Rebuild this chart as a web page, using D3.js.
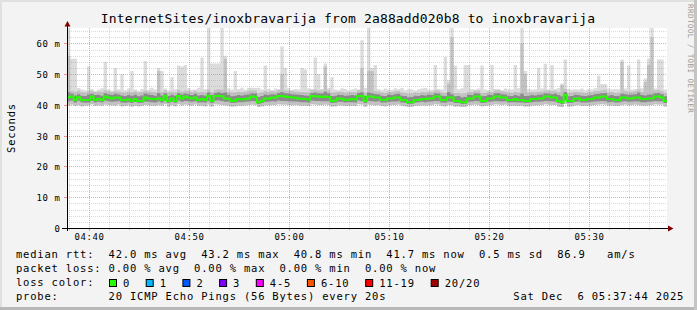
<!DOCTYPE html>
<html><head><meta charset="utf-8">
<script src="https://cdn.jsdelivr.net/npm/d3@7"></script>
<style>
html,body{margin:0;padding:0;background:#f3f3f3;}
svg{display:block;}
text{font-family:"DejaVu Sans Mono",monospace;}
</style></head><body>
<svg id="c" width="697" height="310"></svg>
<script>
// ---------------- data ----------------
const titleText = "InternetSites/inoxbravarija from 2a88add020b8 to inoxbravarija";
const yTickValues = [0, 10, 20, 30, 40, 50, 60];
const yTickLabels = ["0", "10 m", "20 m", "30 m", "40 m", "50 m", "60 m"];
const xTickLabels = ["04:40", "04:50", "05:00", "05:10", "05:20", "05:30"];
const stepSeconds = 20;

// median rtt per 20 s step (ms)
const median = [
42.5,42.7,41.6,42.5,41.6,41.6,41.6,42.7,41.6,41.9,41.6,42.7,42.4,42.1,42.4,42.4,41.6,41.6,41.8,41.3,41.9,41.3,41.3,42.4,42.1,41.9,41.9,42.1,41.6,42.9,
41.3,42.1,41.3,42.9,42.1,42.7,42.4,42.1,42.4,41.6,41.9,41.6,42.9,41.3,42.9,42.9,42.8,42.1,42.0,41.3,41.4,41.9,41.8,41.9,42.1,42.7,42.6,40.9,41.3,42.1,
42.0,42.4,42.3,42.9,42.8,42.7,42.6,42.4,42.3,42.1,42.0,41.9,41.8,42.9,42.8,42.7,42.6,42.7,42.6,41.3,41.4,42.1,42.0,41.6,41.7,41.9,41.8,42.9,42.8,41.3,
42.7,42.7,42.4,42.4,41.6,41.6,42.1,42.1,42.4,42.4,41.6,41.6,40.9,40.9,41.6,41.6,41.9,41.9,42.1,42.1,42.7,42.7,41.6,41.6,42.4,42.4,41.3,41.3,40.9,40.9,
42.1,42.1,42.7,42.7,41.3,41.3,42.1,42.1,42.7,42.7,42.4,42.4,41.6,41.6,41.9,41.6,41.6,41.3,41.3,41.9,41.9,42.1,42.1,42.7,42.7,42.4,42.4,41.3,40.9,43.2,
41.3,41.3,42.1,42.1,41.6,41.6,41.9,41.9,42.4,42.4,42.7,42.7,41.9,41.9,41.6,41.6,42.4,42.4,42.1,42.1,42.4,42.4,41.9,41.9,42.1,42.1,42.7,42.7,42.4,41.3
];
// highest ping per step (ms)
const pingMax = [
66,55,55,45.5,45,44.8,52.6,45.2,44.6,45,45.4,54,45,44.7,52,45.1,50,44.8,45.3,51,45,44.6,45.2,54.3,44.9,45.6,45,52,51,45.3,
44.8,49,45.1,52.8,52.5,53,45.4,44.9,45,45.6,55.4,45.2,66,53.5,53.5,53.5,66,56,45.3,45,51,45.2,45.6,44.9,45.6,45.6,45.5,45.6,45,52.8,
45.2,44.8,45.3,45.1,59,52,45.4,44.9,45.2,45,52,51.5,45.3,45.1,55.4,50,45.2,53.5,45.4,49,45,44.8,45.4,45.2,44.8,45,45.3,44.9,61,45.5,
66,52,53,45.2,44.8,45.3,45,44.9,45.4,45.1,45.5,44.8,45.2,45,44.7,45.1,45.3,45.5,45,44.9,53,45.2,45,55.6,48,66,52.8,45.1,45.4,53,
53,45.2,44.9,45.3,52.8,45,44.8,53,45.2,45,44.8,45.3,45.1,45,53,45.4,66,51,45.2,44.9,45.1,52,45.3,53.4,45,53,45.2,45.5,47,54.8,
45.2,44.9,45.1,45,45.3,44.8,45.2,45,45.4,49.5,46.8,46.8,45.3,45,45.2,45.1,54.8,45.3,52.8,45,45.2,54.8,45.4,48.6,55,66,45.3,54.8,54.8,45
];
// second highest ping per step (ms)
const pingHigh = [
56,44.6,44.3,44.7,44.2,44.0,44.5,44.6,44.2,44.4,44.3,44.8,44.5,44.2,44.6,44.4,44.1,44.0,44.3,44.1,44.4,44.0,44.2,44.7,44.4,44.3,44.1,51,44.2,44.8,
44.0,44.3,44.1,44.9,44.4,44.7,44.5,44.2,44.6,44.1,44.3,44.1,45.0,44.2,44.9,45.1,44.9,55,44.3,44.0,44.1,44.3,44.2,44.4,44.5,44.8,44.7,43.8,44.0,44.5,
44.2,44.5,44.4,44.9,50,44.8,44.7,44.5,44.4,44.3,44.2,44.1,44.0,44.9,45.0,44.8,44.7,52.5,44.8,44.0,44.1,44.3,44.2,44.0,44.1,44.2,44.1,44.9,52,44.0,
51,51,44.5,44.4,44.0,43.9,44.3,44.2,44.5,44.6,44.0,43.9,43.6,43.7,44.0,43.9,44.2,44.1,44.3,44.2,44.8,44.7,44.0,43.9,47,62,43.8,43.9,43.5,43.7,
44.3,44.2,44.8,44.7,43.8,43.9,44.3,44.2,44.8,44.9,44.5,44.4,44.0,43.9,44.2,44.0,60,50,44.0,44.2,44.1,44.3,44.4,44.8,44.7,44.5,44.6,44.2,46.5,45.2,
43.9,44.0,44.3,44.2,44.0,43.9,44.1,44.2,44.5,44.6,44.8,44.9,44.1,44.2,43.9,44.0,54,44.5,44.3,44.4,44.5,45.0,44.2,47.5,53,62,44.8,44.9,44.5,43.9
];
// upper quartile per step (ms)
const pingQ3 = [
44.2,43.6,43.1,43.5,43.0,42.9,43.4,43.6,43.2,43.3,43.0,43.8,43.5,43.2,43.6,43.4,43.1,42.9,43.2,43.0,43.3,42.8,43.1,43.7,43.4,43.2,43.0,43.9,43.1,43.8,
42.9,43.3,43.0,43.9,43.4,43.7,43.5,43.2,43.6,43.1,43.2,43.0,44.0,43.2,43.9,44.1,43.9,44.0,43.3,42.8,43.0,43.2,43.1,43.3,43.4,43.8,43.7,42.6,42.9,43.4,
43.2,43.5,43.4,43.9,44.2,43.8,43.7,43.5,43.4,43.3,43.2,43.1,43.0,43.9,44.0,43.8,43.7,44.3,43.8,42.9,43.0,43.3,43.2,43.0,43.1,43.2,43.1,43.9,44.1,42.9,
44.0,43.8,43.5,43.4,43.0,42.9,43.3,43.2,43.5,43.6,43.0,42.9,42.5,42.6,43.0,42.9,43.2,43.1,43.3,43.2,43.8,43.7,43.0,42.9,44.2,43.5,42.8,42.9,42.4,42.6,
43.3,43.2,43.8,43.7,42.8,42.9,43.3,43.2,43.8,43.9,43.5,43.4,43.0,42.9,43.2,43.0,43.6,42.9,43.0,43.2,43.1,43.3,43.4,43.8,43.7,43.5,43.6,43.2,42.8,44.2,
42.8,42.9,43.3,43.2,43.0,42.9,43.1,43.2,43.5,43.6,43.8,43.9,43.1,43.2,42.9,43.0,43.6,43.5,43.3,43.4,43.5,44.0,43.2,43.1,43.3,43.4,43.8,43.9,43.5,42.8
];
// lower quartile per step (ms)
const pingQ1 = [
41.2,41.4,40.8,41.3,40.9,40.7,40.8,41.3,40.8,41.0,40.9,41.4,41.2,41.0,41.1,41.2,40.8,40.7,40.9,40.6,41.0,40.6,40.7,41.1,41.0,40.9,40.8,41.1,40.8,41.4,
40.6,41.1,40.7,41.4,41.0,41.3,41.2,41.0,41.2,40.8,40.9,40.8,41.3,40.6,41.4,41.4,41.3,41.0,41.0,40.6,40.7,40.9,40.9,41.0,41.1,41.3,41.2,40.3,40.6,41.0,
41.0,41.2,41.1,41.4,41.3,41.3,41.2,41.1,41.1,41.0,40.9,40.9,40.8,41.4,41.3,41.3,41.2,41.2,41.2,40.6,40.7,41.0,41.0,40.8,40.9,40.9,40.8,41.4,41.3,40.6,
41.3,41.2,41.1,41.2,40.8,40.8,41.0,41.1,41.1,41.2,40.8,40.7,40.3,40.4,40.8,40.9,41.0,40.9,41.0,41.1,41.3,41.2,40.8,40.7,41.1,41.0,40.6,40.6,40.3,40.4,
41.0,41.1,41.3,41.2,40.6,40.7,41.0,41.1,41.3,41.2,41.1,41.2,40.8,40.9,40.9,40.8,40.8,40.6,40.7,40.9,41.0,41.0,41.1,41.3,41.2,41.2,41.1,40.6,40.3,41.5,
40.6,40.7,41.0,41.1,40.8,40.8,40.9,41.0,41.1,41.2,41.3,41.2,40.9,41.0,40.8,40.8,41.1,41.2,41.0,41.1,41.2,41.1,40.9,40.9,41.0,41.1,41.3,41.2,41.2,40.6
];
// lowest ping per step (ms)
const pingMin = [
39.8,40.1,39.7,40.0,39.6,39.8,39.9,40.2,39.7,39.9,39.8,40.1,40.0,39.9,39.8,40.1,39.6,39.7,39.9,39.5,39.8,39.6,39.7,40.0,39.9,39.8,39.7,40.0,39.8,40.2,
39.5,40.0,39.6,40.2,39.9,40.1,40.0,39.8,40.1,39.7,39.8,39.6,40.1,39.5,40.2,40.1,40.0,39.9,39.8,39.5,39.6,39.8,39.7,39.9,40.0,40.1,40.0,39.3,39.6,39.9,
39.9,40.0,40.0,40.2,40.1,40.1,40.0,39.9,40.0,39.9,39.8,39.8,39.7,40.2,40.1,40.0,40.0,40.1,40.0,39.5,39.6,39.9,39.9,39.7,39.8,39.8,39.7,40.2,40.1,39.5,
40.1,40.0,39.9,40.0,39.7,39.6,39.9,40.0,40.0,40.1,39.7,39.6,39.3,39.4,39.7,39.8,39.9,39.8,39.9,40.0,40.2,40.1,39.7,39.6,40.0,39.9,39.5,39.6,39.3,39.4,
39.9,40.0,40.1,40.0,39.6,39.7,39.9,40.0,40.2,40.1,40.0,40.1,39.7,39.8,39.8,39.7,39.8,39.5,39.6,39.8,39.9,39.9,40.0,40.2,40.1,40.0,40.0,39.5,39.3,40.3,
39.5,39.6,39.9,40.0,39.7,39.7,39.8,39.9,40.0,40.1,40.2,40.1,39.8,39.9,39.7,39.7,40.0,40.1,39.9,40.0,40.1,40.0,39.8,39.8,39.9,40.0,40.2,40.1,40.1,39.5
];

const legendRtt = "median rtt:  42.0 ms avg  43.2 ms max  40.8 ms min  41.7 ms now  0.5 ms sd  86.9   am/s";
const legendLoss = "packet loss: 0.00 % avg  0.00 % max  0.00 % min  0.00 % now";
const lossLabels = ["0", "1", "2", "3", "4-5", "6-10", "11-19", "20/20"];
const lossColors = ["#26ff00", "#00b8ff", "#0059ff", "#7e00ff", "#ff00ff", "#ff5500", "#ff0000", "#a10000"];
const probeText = "probe:       20 ICMP Echo Pings (56 Bytes) every 20s";
const dateText = "Sat Dec  6 05:37:44 2025";
const watermark = "RRDTOOL / TOBI OETIKER";

// ---------------- layout ----------------
const W = 697, H = 310;
const L = 67, R = 667, T = 28, B = 228;
const t0 = new Date(2025, 11, 6, 4, 37, 50);
const t1 = new Date(2025, 11, 6, 5, 37, 50);

const svg = d3.select("#c");
svg.append("rect").attr("width", W).attr("height", H).attr("fill", "#f3f3f3");
// frame
svg.append("rect").attr("x", 0).attr("y", 0).attr("width", W).attr("height", 2).attr("fill", "#e0e0e0");
svg.append("rect").attr("x", 0).attr("y", 0).attr("width", 2).attr("height", H).attr("fill", "#e0e0e0");
svg.append("rect").attr("x", 0).attr("y", H - 3).attr("width", W).attr("height", 3).attr("fill", "#b8b8b8");
svg.append("rect").attr("x", W - 3).attr("y", 0).attr("width", 3).attr("height", H).attr("fill", "#c4c4c4");

const x = d3.scaleTime().domain([t0, t1]).range([L, R]);
const y = d3.scaleLinear().domain([0, 65]).range([B, T]);

svg.append("rect").attr("x", L).attr("y", T).attr("width", R - L).attr("height", B - T).attr("fill", "#ffffff");

svg.append("defs").append("clipPath").attr("id", "pc")
  .append("rect").attr("x", L).attr("y", T).attr("width", R - L).attr("height", B - T);

const n = median.length;
const pts = d3.range(n + 1).map(i => {
  const k = Math.min(i, n - 1);
  return { t: new Date(t0.getTime() + i * stepSeconds * 1000), k };
});

const g = svg.append("g").attr("clip-path", "url(#pc)");
function band(lo, hi, color) {
  const a = d3.area().curve(d3.curveStepAfter)
    .x(d => x(d.t)).y0(d => y(lo[d.k])).y1(d => y(hi[d.k]));
  g.append("path").datum(pts).attr("d", a).attr("fill", color);
}
band(pingMin, pingMax, "#dcdcdc");
band(pingMin, pingHigh, "#c2c2c2");
band(pingQ1, pingQ3, "#8a8a8a");

const ln = d3.line().curve(d3.curveStepAfter).x(d => x(d.t)).y(d => y(median[d.k]));
g.append("path").datum(pts).attr("d", ln).attr("fill", "none")
  .attr("stroke", lossColors[0]).attr("stroke-width", 2);

// grid (drawn over the data, like rrdtool)
const grid = svg.append("g");
const minorY = d3.range(2, 65, 2).filter(v => v % 10 !== 0);
const majorY = yTickValues.filter(v => v > 0);
const minorCol = "rgba(150,150,150,0.36)";
const majorCol = "rgba(255,70,70,0.5)";
minorY.forEach(v => {
  const yy = Math.round(y(v)) + 0.5;
  grid.append("line").attr("x1", L).attr("x2", R).attr("y1", yy).attr("y2", yy)
    .attr("stroke", minorCol).attr("stroke-dasharray", "1,1");
});
const majorT = xTickLabels.map(s => new Date(2025, 11, 6, +s.slice(0, 2), +s.slice(3, 5), 0));
const minorT = d3.timeMinute.every(2).range(t0, t1).filter(t => t.getMinutes() % 10 !== 0);
minorT.forEach(t => {
  const xx = Math.round(x(t)) + 0.5;
  grid.append("line").attr("x1", xx).attr("x2", xx).attr("y1", T).attr("y2", B)
    .attr("stroke", minorCol).attr("stroke-dasharray", "1,1");
  grid.append("line").attr("x1", xx).attr("x2", xx).attr("y1", B).attr("y2", B + 2)
    .attr("stroke", "rgba(150,150,150,0.6)");
});
majorY.forEach(v => {
  const yy = Math.round(y(v)) + 0.5;
  grid.append("line").attr("x1", L).attr("x2", R).attr("y1", yy).attr("y2", yy)
    .attr("stroke", majorCol).attr("stroke-dasharray", "1,1");
  grid.append("line").attr("x1", L - 3).attr("x2", L).attr("y1", yy).attr("y2", yy)
    .attr("stroke", "rgba(255,70,70,0.6)");
});
majorT.forEach(t => {
  const xx = Math.round(x(t)) + 0.5;
  grid.append("line").attr("x1", xx).attr("x2", xx).attr("y1", T).attr("y2", B)
    .attr("stroke", majorCol).attr("stroke-dasharray", "1,1");
  grid.append("line").attr("x1", xx).attr("x2", xx).attr("y1", B).attr("y2", B + 3)
    .attr("stroke", "rgba(255,70,70,0.6)");
});

// axes
svg.append("line").attr("x1", L - 5).attr("x2", R + 1).attr("y1", B + 0.5).attr("y2", B + 0.5).attr("stroke", "#000");
svg.append("line").attr("x1", L + 0.5).attr("x2", L + 0.5).attr("y1", B + 3).attr("y2", T - 2).attr("stroke", "#000");
svg.append("path").attr("d", `M${L - 2.5},${T - 1.5} L${L + 3.5},${T - 1.5} L${L + 0.5},${T - 7} Z`).attr("fill", "#7f0000");
svg.append("path").attr("d", `M${R + 1},${B - 2.5} L${R + 1},${B + 3.5} L${R + 6.5},${B + 0.5} Z`).attr("fill", "#7f0000");

// y tick labels
yTickValues.forEach((v, i) => {
  svg.append("text").attr("x", L - 6.4).attr("y", Math.round(y(v)) + 3.8)
    .attr("text-anchor", "end").attr("font-size", 9).attr("letter-spacing", 0.6)
    .attr("fill", "#000").text(yTickLabels[i]);
});
// x tick labels
majorT.forEach((t, i) => {
  svg.append("text").attr("x", x(t) + 0.8).attr("y", 239.5)
    .attr("text-anchor", "middle").attr("font-size", 9).attr("letter-spacing", 0.6)
    .attr("fill", "#000").text(xTickLabels[i]);
});

// title
svg.append("text").attr("x", 348).attr("y", 23.3).attr("text-anchor", "middle")
  .attr("font-size", 13).attr("letter-spacing", 0.15).attr("fill", "#000").text(titleText);

// y label
svg.append("text").attr("transform", "translate(15,128) rotate(-90)").attr("text-anchor", "middle")
  .attr("font-size", 10.5).attr("letter-spacing", 0.8).attr("fill", "#000").text("Seconds");

// watermark
svg.append("text").attr("transform", "translate(688,4) rotate(90)")
  .attr("font-size", 7.5).attr("letter-spacing", 0.45).attr("fill", "#999999").text(watermark);

// legend
function legendText(str, xx, yy) {
  return svg.append("text").attr("x", xx).attr("y", yy).attr("xml:space", "preserve")
    .style("white-space", "pre").attr("font-size", 10.5).attr("letter-spacing", 0.8)
    .attr("fill", "#000").text(str);
}
legendText(legendRtt, 16, 258);
legendText(legendLoss, 16, 272);
legendText("loss color:", 16, 286);
let bx = 109;
lossLabels.forEach((lab, i) => {
  svg.append("rect").attr("x", bx + 0.5).attr("y", 279.5).attr("width", 7).attr("height", 7)
    .attr("fill", lossColors[i]).attr("stroke", "#000").attr("stroke-width", 1);
  legendText(lab, bx + 14, 286.5);
  bx += 29.5 + 7.2 * lab.length;
});
legendText(probeText, 16, 300);
legendText(dateText, 513.3, 300);
</script>
</body></html>
